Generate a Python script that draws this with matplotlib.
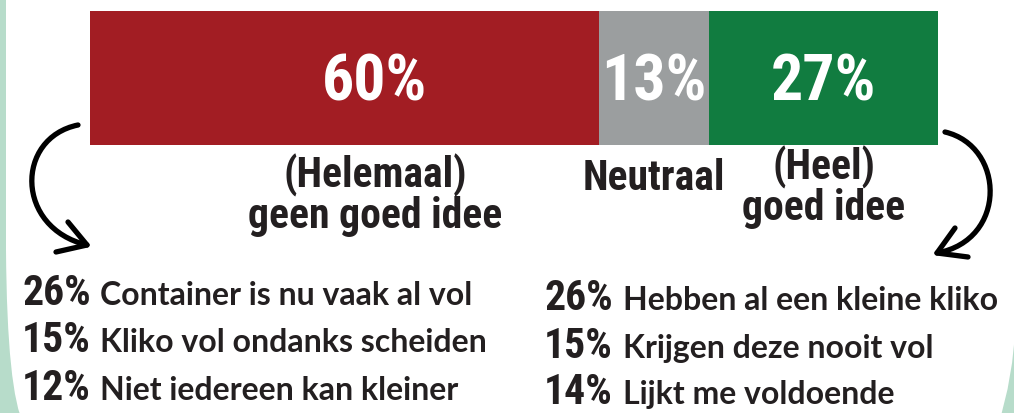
import matplotlib
matplotlib.use("Agg")
import matplotlib.pyplot as plt
import matplotlib.transforms as mtransforms
from matplotlib.path import Path
from matplotlib.patches import PathPatch
from matplotlib import font_manager as fm
import numpy as np

# ---------------- data ----------------
categories = ["(Helemaal)\ngeen goed idee", "Neutraal", "(Heel)\ngoed idee"]
shares = [60, 13, 27]
bar_labels = ["60%", "13%", "27%"]
colors = ["#A21D23", "#9B9E9F", "#117C40"]

neg_pcts = ["26%", "15%", "12%"]
neg_reasons = ["Container is nu vaak al vol", "Kliko vol ondanks scheiden",
               "Niet iedereen kan kleiner"]
pos_pcts = ["26%", "15%", "14%"]
pos_reasons = ["Hebben al een kleine kliko", "Krijgen deze nooit vol",
               "Lijkt me voldoende"]

# ---------------- fonts ----------------
names = {f.name for f in fm.fontManager.ttflist}
cond_kw = None
for cand in ["Liberation Sans Narrow", "DejaVu Sans Condensed", "Roboto Condensed",
             "Open Sans Condensed"]:
    if cand in names:
        cond_kw = dict(family=cand, weight="bold")
        break
if cond_kw is None:
    if any(f.name == "DejaVu Sans" and f.stretch == "condensed" for f in fm.fontManager.ttflist):
        cond_kw = dict(family="DejaVu Sans", weight="bold", stretch="condensed")
    else:
        cond_kw = dict(family="Liberation Sans", weight="bold")
body_kw = dict(family="Lato", weight="bold")

DARK = "#231F20"
BG = "#B7DCCA"

W, H = 1014, 413
fig = plt.figure(figsize=(W / 100, H / 100), dpi=100)
fig.patch.set_facecolor(BG)

# overlay axes in pixel coordinates
ov = fig.add_axes([0, 0, 1, 1])
ov.set_xlim(0, W)
ov.set_ylim(H, 0)
ov.axis("off")

# white card with rounded bottom corners
verts = [(6, -20), (6, 250), (7, 392), (24, 425), (998, 425), (1013, 380),
         (1016, 320), (1030, -20), (6, -20)]
codes = [Path.MOVETO, Path.LINETO, Path.CURVE3, Path.CURVE3, Path.LINETO,
         Path.CURVE3, Path.CURVE3, Path.LINETO, Path.CLOSEPOLY]
ov.add_patch(PathPatch(Path(verts, codes), facecolor="white", edgecolor="none", zorder=0))

# ---------------- stacked bar ----------------
axb = fig.add_axes([90 / W, (H - 145) / H, 848 / W, 134 / H])
lefts = np.concatenate([[0], np.cumsum(shares)[:-1]])
axb.barh(0, shares, left=lefts, height=1.0, color=colors, edgecolor="none")
axb.set_xlim(0, sum(shares))
axb.set_ylim(-0.5, 0.5)
axb.axis("off")

centers = lefts + np.array(shares) / 2
label_x = centers + np.array([3.6, 0, 0])
for x, t in zip(label_x, bar_labels):
    axb.text(x, -0.04, t, color="white", fontsize=46, ha="center", va="center", **cond_kw)

blend = mtransforms.blended_transform_factory(axb.transData, ov.transData)
cat_baseline = [228, 190, 220]
for x, t, yb in zip(label_x, categories, cat_baseline):
    axb.text(x, yb, t, transform=blend, color=DARK, fontsize=30, ha="center",
             va="baseline", multialignment="center", linespacing=0.97, **cond_kw)

# ---------------- arrows ----------------
def draw_arrow(p0, p1, p2, p3, arm1, arm2):
    path = Path([p0, p1, p2, p3], [Path.MOVETO, Path.CURVE4, Path.CURVE4, Path.CURVE4])
    ov.add_patch(PathPatch(path, facecolor="none", edgecolor="black", lw=3.8,
                           capstyle="round", zorder=3))
    ov.plot([arm1[0], p3[0], arm2[0]], [arm1[1], p3[1], arm2[1]], color="black",
            lw=3.8, solid_capstyle="round", solid_joinstyle="round", zorder=3)

draw_arrow((78, 125), (15, 138), (15, 228), (87, 245), (68, 222), (56, 252))
draw_arrow((945, 132), (1005, 146), (1008, 240), (937, 253), (955, 228), (968, 257))

# ---------------- reason lists ----------------
neg_base = [305, 352, 400]
for p, r, yb in zip(neg_pcts, neg_reasons, neg_base):
    ov.text(22, yb, p, color=DARK, fontsize=30, ha="left", va="baseline", **cond_kw)
    ov.text(100, yb, r, color=DARK, fontsize=23, ha="left", va="baseline", **body_kw)

pos_base = [310, 358, 404]
for p, r, yb in zip(pos_pcts, pos_reasons, pos_base):
    ov.text(544, yb, p, color=DARK, fontsize=30, ha="left", va="baseline", **cond_kw)
    ov.text(623, yb, r, color=DARK, fontsize=23, ha="left", va="baseline", **body_kw)

fig.savefig("out.png", dpi=100, facecolor=BG)
